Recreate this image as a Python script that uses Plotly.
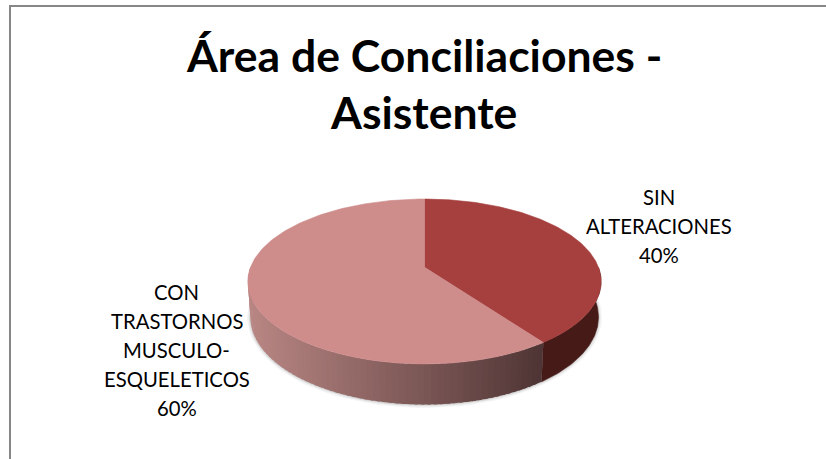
import math
import plotly.graph_objects as go

title_lines = ["Área de Conciliaciones -", "Asistente"]
categories = ["SIN ALTERACIONES", "CON TRASTORNOS MUSCULO-ESQUELETICOS"]
values = [40, 60]
label_lines = [["SIN", "ALTERACIONES", "40%"],
               ["CON", "TRASTORNOS", "MUSCULO-", "ESQUELETICOS", "60%"]]

TOP_COLORS = ["#A5403E", "#CE8C8B"]
WALL_DARK = "#451A17"
CX, CY, R, A, K, DEPTH, INSET = 424.5, 267.3, 174.0, 80.0, 0.172, 34.8, 0.985
FONT = "Lato"


def proj(theta, lower=False):
    u, v = math.sin(theta), -math.cos(theta)
    s = 1 / (1 - K * v)
    if lower:
        return CX + R * INSET * u * s, CY + A * INSET * v * s + DEPTH * s
    return CX + R * u * s, CY + A * v * s


def arc(t0, t1, lower=False, n=90):
    pts = [proj(t0 + (t1 - t0) * i / n, lower) for i in range(n + 1)]
    return [p[0] for p in pts], [p[1] for p in pts]


def poly(xs, ys, color, name, lw=0.6):
    return go.Scatter(x=xs, y=ys, mode="lines", fill="toself", fillcolor=color,
                      line=dict(color=color, width=lw), hoverinfo="text", text=name,
                      showlegend=False)


def mix(c0, c1, f):
    return "rgb(%d,%d,%d)" % tuple(round(a + (b - a) * f) for a, b in zip(c0, c1))


total = sum(values)
split = 2 * math.pi * values[0] / total
fig = go.Figure()

# soft shadow under the wall
for w, op in [(7, 0.05), (4, 0.08), (2, 0.12)]:
    xs, ys = arc(math.pi * 0.47, math.pi * 1.53, True)
    fig.add_trace(go.Scatter(x=xs, y=ys, mode="lines", opacity=op,
                             line=dict(color="#404040", width=w),
                             hoverinfo="skip", showlegend=False))

# wall: first slice (only its visible front part)
xt, yt = arc(math.pi / 2, split)
xb, yb = arc(math.pi / 2, split, True)
fig.add_trace(poly(xt + xb[::-1], yt + yb[::-1], WALL_DARK, categories[0]))

# wall: second slice with a horizontal gradient in overlapping strips
light, dark = (184, 134, 131), (78, 52, 52)
strips = 70
t_end = 3 * math.pi / 2
x_right, x_left = proj(split)[0], proj(t_end)[0]
for i in range(strips):
    t0 = split + (t_end - split) * i / strips
    t1 = split + (t_end - split) * (i + 1.6) / strips
    t1 = min(t1, t_end)
    f = (proj((t0 + t1) / 2)[0] - x_left) / (x_right - x_left)
    xt, yt = arc(t0, t1, n=3)
    xb, yb = arc(t0, t1, True, n=3)
    col = mix(light, dark, f)
    fig.add_trace(go.Scatter(x=xt + xb[::-1], y=yt + yb[::-1], mode="lines", fill="toself",
                             fillcolor=col, line=dict(width=0), hoverinfo="text",
                             text=categories[1], showlegend=False))

# top faces
start = 0.0
for val, color, name in zip(values, TOP_COLORS, categories):
    end = start + 2 * math.pi * val / total
    xs, ys = arc(start, end, n=180)
    fig.add_trace(poly([CX] + xs + [CX], [CY] + ys + [CY], color, name))
    start = end

ann = []
for line, y in zip(title_lines, [54.5, 111.5]):
    ann.append(dict(x=423.5, y=y, text=f"<b>{line}</b>", font=dict(size=44.5, color="#000000", family=FONT)))
for line, y in zip(label_lines[0], [196.8, 226, 255.2]):
    ann.append(dict(x=659, y=y, text=line, font=dict(size=20.3, color="#000000", family=FONT)))
for line, y in zip(label_lines[1], [291.7, 320.7, 350, 379, 408.3]):
    ann.append(dict(x=176.7, y=y, text=line, font=dict(size=20.3, color="#000000", family=FONT)))
for a in ann:
    a.update(xref="x", yref="y", showarrow=False, xanchor="center", yanchor="middle")

fig.update_layout(
    width=826, height=459, margin=dict(l=0, r=0, t=0, b=0),
    paper_bgcolor="#FFFFFF", plot_bgcolor="#FFFFFF", annotations=ann,
    xaxis=dict(range=[0, 826], visible=False, fixedrange=True),
    yaxis=dict(range=[459, 0], visible=False, fixedrange=True),
    shapes=[
        dict(type="line", xref="x", yref="y", x0=10, y0=6, x1=826, y1=6, line=dict(color="#868686", width=2)),
        dict(type="line", xref="x", yref="y", x0=10, y0=5, x1=10, y1=459, line=dict(color="#868686", width=2)),
    ],
)
fig.write_html("out.html", config={"displayModeBar": False},
               post_script="document.documentElement.style.margin='0';document.body.style.margin='0';document.body.style.overflow='hidden';")
